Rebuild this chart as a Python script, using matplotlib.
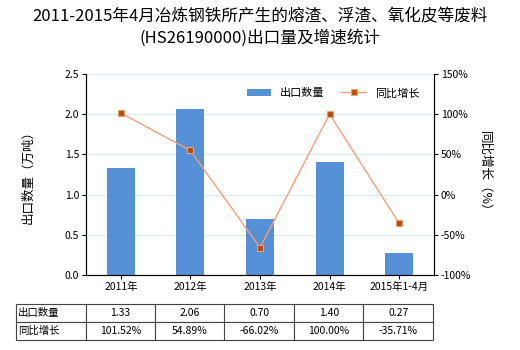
import matplotlib
matplotlib.use("Agg")
import matplotlib.pyplot as plt
import numpy as np

plt.rcParams['font.family'] = ['Noto Sans CJK SC', 'DejaVu Sans']

years = ["2011年", "2012年", "2013年", "2014年", "2015年1-4月"]
export_qty = [1.33, 2.06, 0.70, 1.40, 0.27]
growth = [101.52, 54.89, -66.02, 100.00, -35.71]
qty_labels = ["1.33", "2.06", "0.70", "1.40", "0.27"]
growth_labels = ["101.52%", "54.89%", "-66.02%", "100.00%", "-35.71%"]

fig = plt.figure(figsize=(5.2, 3.5), dpi=100)
ax = fig.add_axes([86/520, 1-275/350, 348/520, 201/350])
x = np.arange(len(years))

ax.bar(x, export_qty, width=0.4, color="#5690D6", label="出口数量", zorder=2)
ax.set_xlim(-0.5, 4.5)
ax.set_ylim(0, 2.5)
ax.set_yticks(np.arange(0, 2.51, 0.5))
ax.set_yticklabels([f"{v:.1f}" for v in np.arange(0, 2.51, 0.5)], fontsize=7.5)
ax.grid(axis="y", color="#D8EEF0", linewidth=0.8, zorder=0)
ax.set_xticks(x)
ax.set_xticklabels(years, fontsize=7.5)
ax.tick_params(axis="x", length=3, pad=2)
ax.tick_params(axis="y", length=3, pad=2)
ax.spines["top"].set_visible(False)
ax.set_ylabel("出口数量（万吨）", fontsize=9, labelpad=22)

ax2 = ax.twinx()
ax2.plot(x, growth, color="#F2A07A", linewidth=1, marker="s", markersize=5,
         markerfacecolor="#B84A0A", markeredgecolor="#F0A070", markeredgewidth=0.8,
         label="同比增长", zorder=3)
ax2.set_ylim(-100, 150)
ax2.set_yticks(np.arange(-100, 151, 50))
ax2.set_yticklabels([f"{v}%" for v in range(-100, 151, 50)], fontsize=7.5)
ax2.tick_params(axis="y", length=3, pad=2)
ax2.spines["top"].set_visible(False)
ax2.set_ylabel("同比增长（%）", fontsize=9, rotation=270, labelpad=14)

h1, l1 = ax.get_legend_handles_labels()
h2, l2 = ax2.get_legend_handles_labels()
ax2.legend(h1 + h2, l1 + l2, loc="upper center", bbox_to_anchor=(0.71, 0.98),
           ncol=2, frameon=False, fontsize=8, handlelength=2.2, columnspacing=1.5)

fig.text(0.5, 0.975, "2011-2015年4月冶炼钢铁所产生的熔渣、浮渣、氧化皮等废料\n(HS26190000)出口量及增速统计",
         ha="center", va="top", fontsize=12, linespacing=1.25)

tbl = ax.table(cellText=[["出口数量"] + qty_labels, ["同比增长"] + growth_labels],
               cellLoc="center", bbox=[-70/348, -65/201, 417/348, 36/201])
tbl.auto_set_font_size(False)
tbl.set_fontsize(7.5)
for (r, c), cell in tbl.get_celld().items():
    cell.set_edgecolor("#444444")
    cell.set_linewidth(0.8)
    if c == 0:
        cell._loc = "left"
        cell.PAD = 0.03
        cell.get_text().set_horizontalalignment("left")

fig.savefig("out.png", dpi=100)
